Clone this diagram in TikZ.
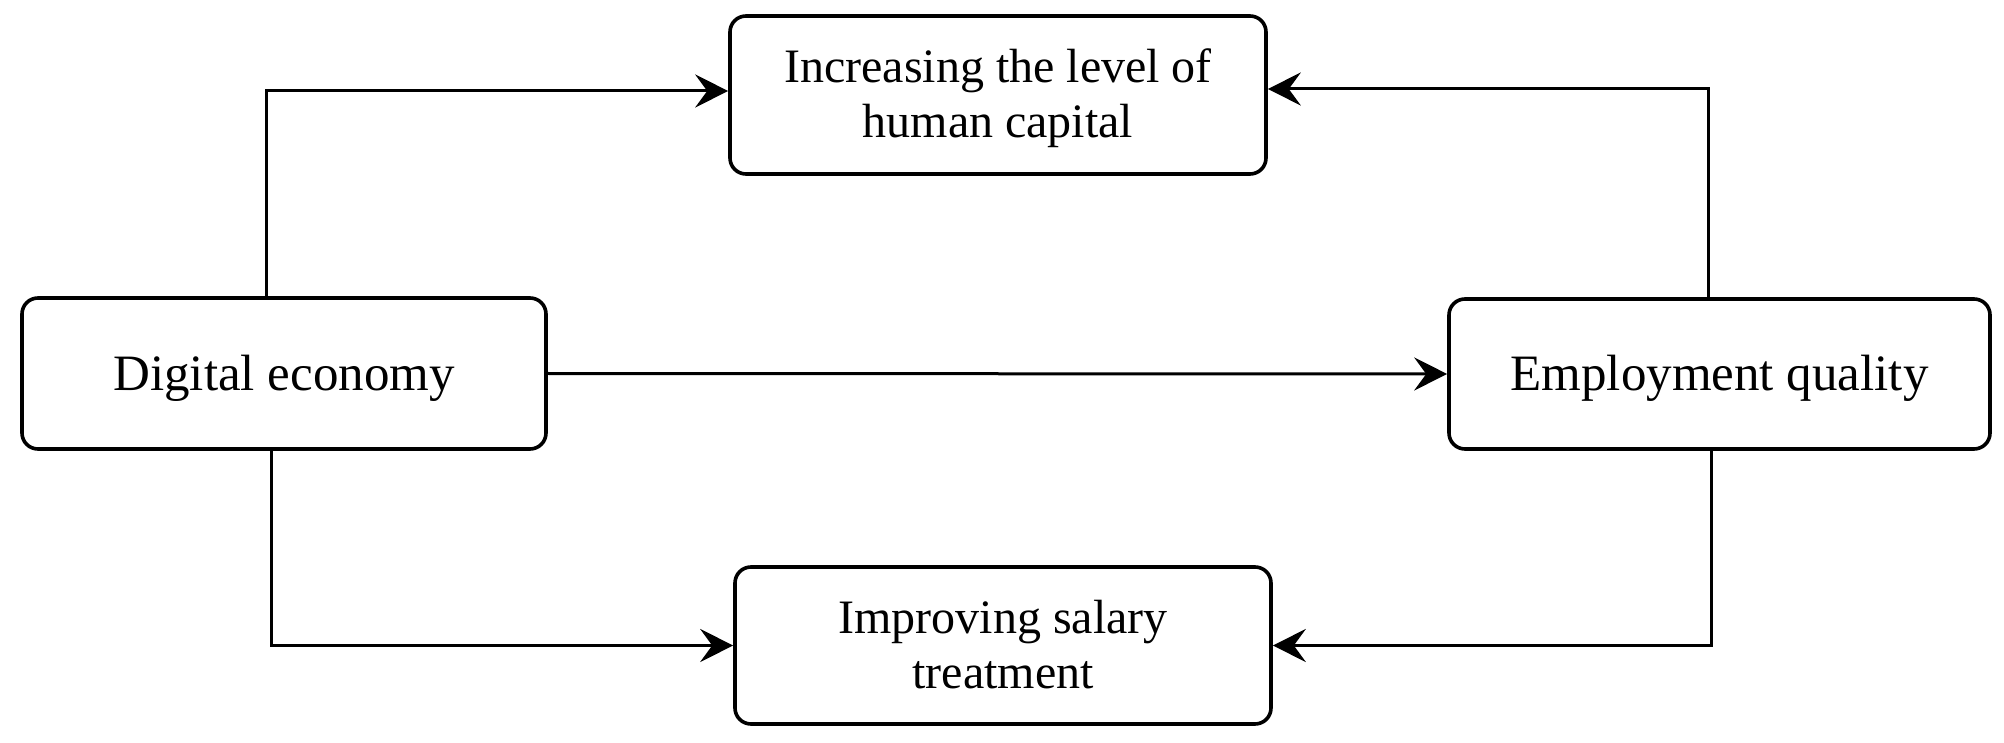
\documentclass[tikz,border=0pt]{standalone}
\usepackage{fontspec}
\setmainfont{Liberation Serif}
\usetikzlibrary{arrows.meta}

\begin{document}
\begin{tikzpicture}[
    x = 0.5pt, y = -0.5pt,
    box/.style = {draw, rounded corners = 8pt, line width = 1.8pt, inner sep = 0pt,
      text height = 16.7pt, text depth = 0pt, font = \fontsize{25.5pt}{30pt}\selectfont},
    twoline/.style = {box, text height = 43pt, font = \fontsize{24pt}{27.5pt}\selectfont},
    arr/.style = {draw, line width = 1.5pt,
      -{Stealth[length = 16.5pt, width = 16.5pt, inset = 6pt]}},
  ]
  \useasboundingbox (0,0) rectangle (2004,743);
  \node[twoline, minimum width = 268pt, minimum height = 79pt] (hcap) at (998,95)
    {\begin{tabular}[b]{@{}c@{}}Increasing the level of\\human capital\end{tabular}};
  \node[twoline, minimum width = 268pt, minimum height = 78.5pt] (salary) at (1003,645.5)
    {\begin{tabular}[b]{@{}c@{}}Improving salary\\treatment\end{tabular}};
  \node[box, minimum width = 262pt, minimum height = 75.5pt] (digital) at (284,373.5)
    {Digital economy};
  \node[box, minimum width = 270.5pt, minimum height = 75pt] (employ) at (1719.5,374)
    {Employment quality};

  \draw[arr] (digital.north) ++(-18,0) |- ([yshift = 2pt]hcap.west);
  \draw[arr] (employ.north) ++(-11,0) |- ([yshift = 3pt]hcap.east);
  \draw[arr] (digital.east) -- (employ.west);
  \draw[arr] (digital.south) ++(-13,0) |- (salary.west);
  \draw[arr] (employ.south) ++(-8,0) |- (salary.east);
\end{tikzpicture}
\end{document}
